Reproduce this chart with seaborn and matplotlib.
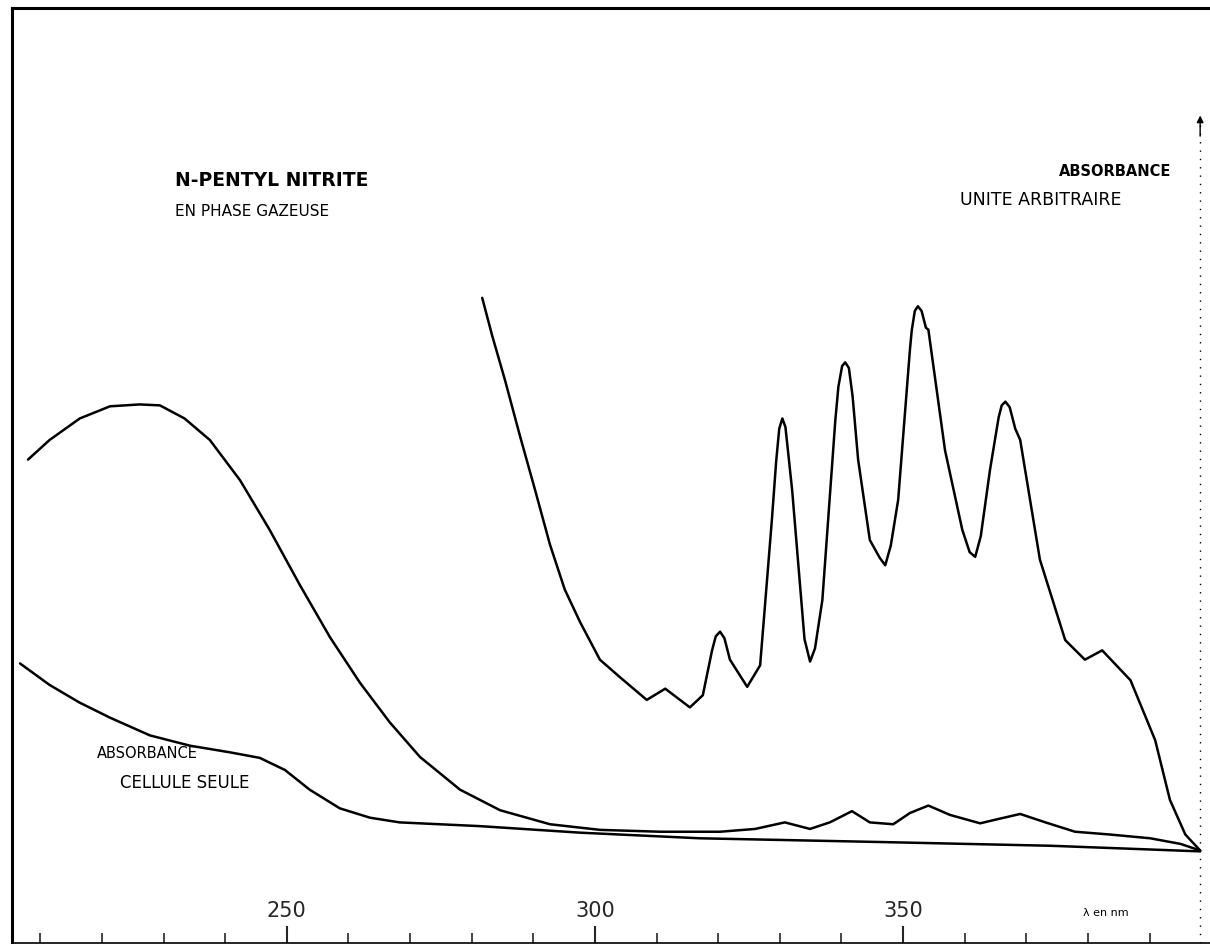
import numpy as np
import pandas as pd
import matplotlib
matplotlib.use('Agg')
import matplotlib.pyplot as plt
import seaborn as sns

# wavelength (nm) / absorbance (arbitrary units)
sample_nm = [208.0, 211.5, 216.4, 221.3, 226.1, 229.4, 233.4, 237.5, 242.4, 247.2,
             252.1, 257.0, 261.9, 266.7, 271.6, 278.1, 284.6, 292.7, 300.8, 310.6,
             320.3, 326.0, 330.8, 334.9, 338.1, 341.7, 344.6, 348.4, 351.1, 354.1,
             357.6, 362.5, 365.7, 369.0, 373.1, 377.9, 383.6, 390.1, 395.0, 398.2]
sample_abs = [51.7, 53.8, 56.1, 57.4, 57.6, 57.5, 56.1, 53.8, 49.5, 44.2,
              38.3, 32.7, 27.8, 23.6, 19.9, 16.4, 14.2, 12.7, 12.1, 11.9,
              11.9, 12.2, 12.9, 12.2, 12.9, 14.1, 12.9, 12.7, 13.9, 14.7,
              13.7, 12.8, 13.3, 13.8, 12.9, 11.9, 11.6, 11.2, 10.6, 9.9]

cell_nm = [206.7, 211.5, 216.4, 221.3, 227.8, 234.3, 240.7, 245.6, 249.7, 253.7,
           258.6, 263.5, 268.3, 281.3, 297.6, 317.0, 346.3, 373.9, 398.2]
cell_abs = [29.9, 27.6, 25.7, 24.1, 22.2, 21.1, 20.4, 19.8, 18.5, 16.4,
            14.4, 13.4, 12.9, 12.5, 11.8, 11.2, 10.8, 10.4, 9.8]

zoom_nm = [281.7, 283.3, 285.4, 287.8, 290.3, 292.7, 295.1, 297.6, 300.8, 304.1,
           308.4, 311.4, 315.4, 317.5, 319.0, 319.6, 320.3, 321.0, 321.9, 324.7,
           326.8, 328.7, 329.4, 329.9, 330.4, 330.9, 331.5, 332.0, 334.0, 334.9,
           335.7, 336.9, 339.0, 339.5, 340.1, 340.6, 341.2, 341.8, 342.7, 344.6,
           346.2, 347.1, 348.0, 349.2, 351.1, 351.4, 351.9, 352.4, 353.0, 353.7,
           354.1, 356.8, 359.6, 360.8, 361.7, 362.6, 364.1, 365.5, 366.0, 366.6,
           367.3, 368.2, 369.0, 372.2, 376.3, 379.5, 382.3, 386.9, 390.9, 393.3,
           395.8, 398.2]
zoom_abs = [69.0, 65.0, 60.2, 54.3, 48.4, 42.6, 37.8, 34.3, 30.3, 28.4,
            26.0, 27.2, 25.2, 26.5, 31.3, 32.8, 33.3, 32.6, 30.3, 27.4,
            29.7, 45.2, 51.5, 55.0, 56.1, 55.2, 51.5, 48.4, 32.5, 30.1,
            31.5, 36.7, 55.9, 59.5, 61.7, 62.1, 61.5, 58.5, 51.7, 43.1,
            41.2, 40.4, 42.5, 47.4, 63.4, 65.5, 67.6, 68.1, 67.6, 65.8,
            65.6, 52.7, 44.2, 41.8, 41.3, 43.5, 50.6, 56.2, 57.5, 57.9,
            57.3, 55.0, 53.8, 41.0, 32.4, 30.3, 31.3, 28.1, 21.7, 15.3,
            11.6, 9.9]

major_ticks = [250, 300, 350]
minor_ticks = list(range(210, 400, 10))

sns.set_style('white')
plt.rcParams['font.family'] = ['DejaVu Sans']

fig = plt.figure(figsize=(12.1, 9.44), dpi=100)
ax = fig.add_axes([12 / 1210, 1 / 944, 1 - 12 / 1210, 935 / 944])

for xs, ys in [(sample_nm, sample_abs), (cell_nm, cell_abs), (zoom_nm, zoom_abs)]:
    sns.lineplot(x=xs, y=ys, ax=ax, color='black', lw=1.8, sort=False,
                 estimator=None)

ax.set_xlim(205.4, 399.8)
ax.set_ylim(0, 100)

# frame: solid left/top/bottom, no right spine
for side in ['left', 'top']:
    ax.spines[side].set_linewidth(2.2)
    ax.spines[side].set_color('black')
ax.spines['bottom'].set_linewidth(1.2)
ax.spines['bottom'].set_color('black')
ax.spines['right'].set_visible(False)

ax.set_xticks(major_ticks)
ax.set_xticks(minor_ticks, minor=True)
ax.set_xticklabels([str(t) for t in major_ticks])
ax.tick_params(axis='x', which='major', direction='in', length=12, width=1.5,
               bottom=True, pad=-30, labelsize=15)
ax.tick_params(axis='x', which='minor', direction='in', length=7, width=1.2,
               bottom=True)
ax.set_yticks([])

# dotted absorbance axis on the right with arrow head
ax.plot([398.2, 398.2], [0, 88.5], color='black', lw=1.0, ls=(0, (1, 5)))
ax.annotate('', xy=(398.2, 88.8), xytext=(398.2, 86.0),
            arrowprops=dict(arrowstyle='-|>', color='black', lw=1.0))

txt = dict(color='black', va='center')
ax.text(231.8, 81.6, 'N-PENTYL NITRITE', fontsize=13.5, fontweight='bold', **txt)
ax.text(231.8, 78.2, 'EN PHASE GAZEUSE', fontsize=11, **txt)
ax.text(393.5, 82.5, 'ABSORBANCE', fontsize=10.5, fontweight='bold', ha='right', **txt)
ax.text(359.3, 79.5, 'UNITE ARBITRAIRE', fontsize=12.5, **txt)
ax.text(219.2, 20.3, 'ABSORBANCE', fontsize=10.5, **txt)
ax.text(222.9, 17.1, 'CELLULE SEULE', fontsize=12, **txt)
ax.text(379.2, 3.2, '\u03bb en nm', fontsize=8, **txt)

fig.savefig('out.png', dpi=100)
